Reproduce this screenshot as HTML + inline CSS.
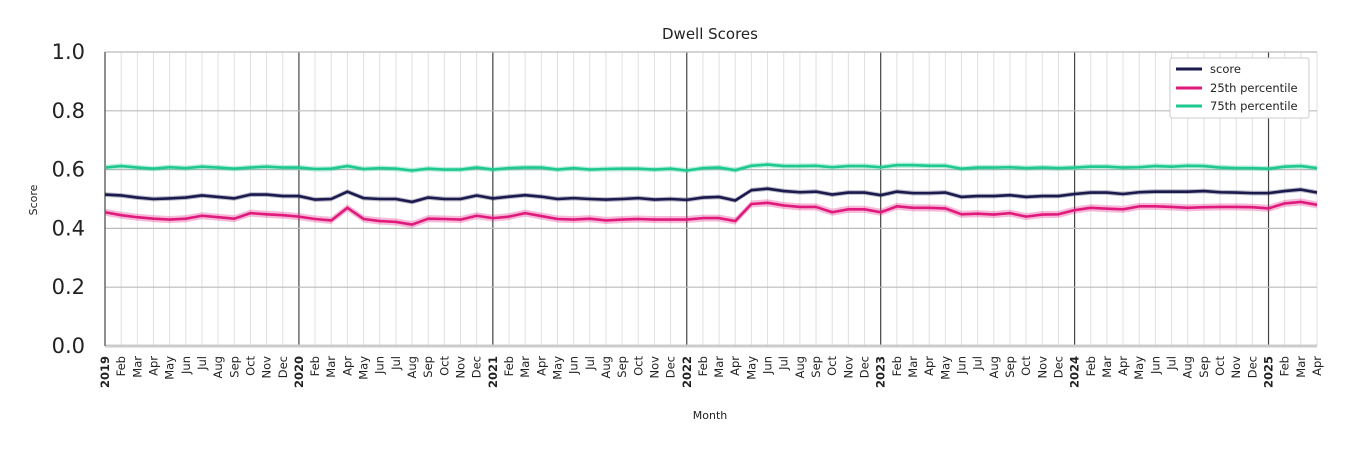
<!DOCTYPE html>
<html><head><meta charset="utf-8"><style>
body{margin:0;background:#fff;font-family:"Liberation Sans","DejaVu Sans",sans-serif}
svg text{font-family:"DejaVu Sans","Liberation Sans",sans-serif}
</style></head><body>
<svg id="chart" width="1350" height="450">
<text x="710" y="39" text-anchor="middle" font-size="15" fill="#222">Dwell Scores</text>
<text x="710" y="419" text-anchor="middle" font-size="11" fill="#222">Month</text>
<text transform="translate(37,200) rotate(-90)" text-anchor="middle" font-size="11" fill="#222">Score</text>
<g id="grid"></g><g id="series"></g><g id="xlabels"></g>
<g>
<rect x="1170" y="58" width="139" height="60" fill="#fff" stroke="#ccc" rx="2"/>
<line x1="1176" y1="69" x2="1202" y2="69" stroke="#1b1a4d" stroke-width="3"/><text x="1210" y="73" font-size="11.5" fill="#222">score</text>
<line x1="1176" y1="88" x2="1202" y2="88" stroke="#e0197d" stroke-width="3"/><text x="1210" y="92" font-size="11.5" fill="#222">25th percentile</text>
<line x1="1176" y1="106" x2="1202" y2="106" stroke="#1ec98f" stroke-width="3"/><text x="1210" y="110" font-size="11.5" fill="#222">75th percentile</text>
</g>
</svg>
<script>
const monthNames=["Jan","Feb","Mar","Apr","May","Jun","Jul","Aug","Sep","Oct","Nov","Dec"];
const yTicks=[0,0.2,0.4,0.6,0.8,1.0];
const scoreVals=[0.515,0.512,0.505,0.5,0.502,0.505,0.512,0.507,0.502,0.515,0.515,0.51,
0.51,0.498,0.5,0.525,0.503,0.5,0.5,0.49,0.505,0.5,0.5,0.512,
0.502,0.508,0.513,0.508,0.5,0.503,0.5,0.498,0.5,0.503,0.498,0.5,
0.497,0.505,0.507,0.495,0.53,0.535,0.527,0.523,0.525,0.515,0.522,0.522,
0.513,0.525,0.52,0.52,0.522,0.507,0.51,0.51,0.513,0.507,0.51,0.51,
0.517,0.522,0.522,0.517,0.523,0.525,0.525,0.525,0.527,0.523,0.522,0.52,
0.52,0.527,0.532,0.522];
const p25Vals=[0.455,0.445,0.438,0.433,0.43,0.433,0.443,0.438,0.433,0.452,0.448,0.445,
0.44,0.432,0.427,0.47,0.432,0.425,0.422,0.413,0.433,0.432,0.43,0.443,
0.435,0.44,0.452,0.442,0.432,0.43,0.433,0.427,0.43,0.432,0.43,0.43,
0.43,0.435,0.435,0.425,0.483,0.487,0.478,0.473,0.473,0.455,0.465,0.465,
0.455,0.475,0.47,0.47,0.468,0.448,0.45,0.447,0.452,0.44,0.447,0.448,
0.462,0.47,0.467,0.465,0.475,0.475,0.473,0.47,0.472,0.473,0.473,0.472,
0.468,0.485,0.49,0.48];
const p75Vals=[0.607,0.612,0.607,0.603,0.608,0.605,0.61,0.607,0.603,0.607,0.61,0.607,
0.607,0.602,0.603,0.612,0.602,0.605,0.603,0.597,0.603,0.6,0.6,0.607,
0.6,0.605,0.607,0.607,0.6,0.605,0.6,0.602,0.603,0.603,0.6,0.603,
0.597,0.605,0.607,0.598,0.613,0.617,0.612,0.612,0.613,0.608,0.612,0.612,
0.608,0.615,0.615,0.613,0.613,0.603,0.607,0.607,0.608,0.605,0.607,0.605,
0.607,0.61,0.61,0.607,0.608,0.612,0.61,0.613,0.612,0.607,0.605,0.605,
0.603,0.61,0.612,0.605];
const startYear=2019;
const NS="http://www.w3.org/2000/svg";
const L=105,R=1317,T=52,B=346,n=scoreVals.length;
const X=i=>L+i*(R-L)/(n-1), Y=v=>B-v*(B-T);
function mk(tag,attrs,parent){const e=document.createElementNS(NS,tag);for(const k in attrs)e.setAttribute(k,attrs[k]);parent.appendChild(e);return e;}
const grid=document.getElementById('grid'),ser=document.getElementById('series'),xl=document.getElementById('xlabels');
for(let i=0;i<n;i++){
  const yr=i%12===0;
  const g=mk('line',{x1:X(i),x2:X(i),y1:T,y2:B,stroke:yr?'#444':'#e0e0e0','stroke-width':yr?1.2:1},grid);
  
  
  const lbl=yr?String(startYear+i/12):monthNames[i%12];
  const t=mk('text',{transform:`translate(${X(i)+4},${B+10}) rotate(-90)`,'text-anchor':'end','font-size':11.5,fill:'#222','font-weight':yr?'bold':'normal'},xl);
  t.textContent=lbl;
  
  
}
yTicks.forEach(v=>{
  const g=mk('line',{x1:L,x2:R,y1:Y(v),y2:Y(v),stroke:v===0?'#ccc':'#bbb','stroke-width':v===0?3:1.2},grid);
  
  
  const t=mk('text',{x:85,y:Y(v)+7,'text-anchor':'end','font-size':21,fill:'#222'},grid);
  t.textContent=v.toFixed(1);
  
  
});
const ax=mk('line',{x1:L,x2:L,y1:T,y2:B,stroke:'#444','stroke-width':1},grid);


function draw(vals,color,name,bw){
  const up=vals.map((v,i)=>X(i)+','+Y(v+bw)).join(' ');
  const dn=vals.map((v,i)=>X(i)+','+Y(v-bw)).reverse().join(' ');
  const b=mk('polygon',{points:up+' '+dn,fill:color,opacity:0.3},ser);
  
  
  const p=mk('polyline',{points:vals.map((v,i)=>X(i)+','+Y(v)).join(' '),fill:'none',stroke:color,'stroke-width':2.6,'stroke-linejoin':'round'},ser);
  
  
}
draw(p75Vals,'#1ec98f','p75',0.009);
draw(scoreVals,'#1b1a4d','score',0.008);
draw(p25Vals,'#e0197d','p25',0.012);
</script>
</body></html>
